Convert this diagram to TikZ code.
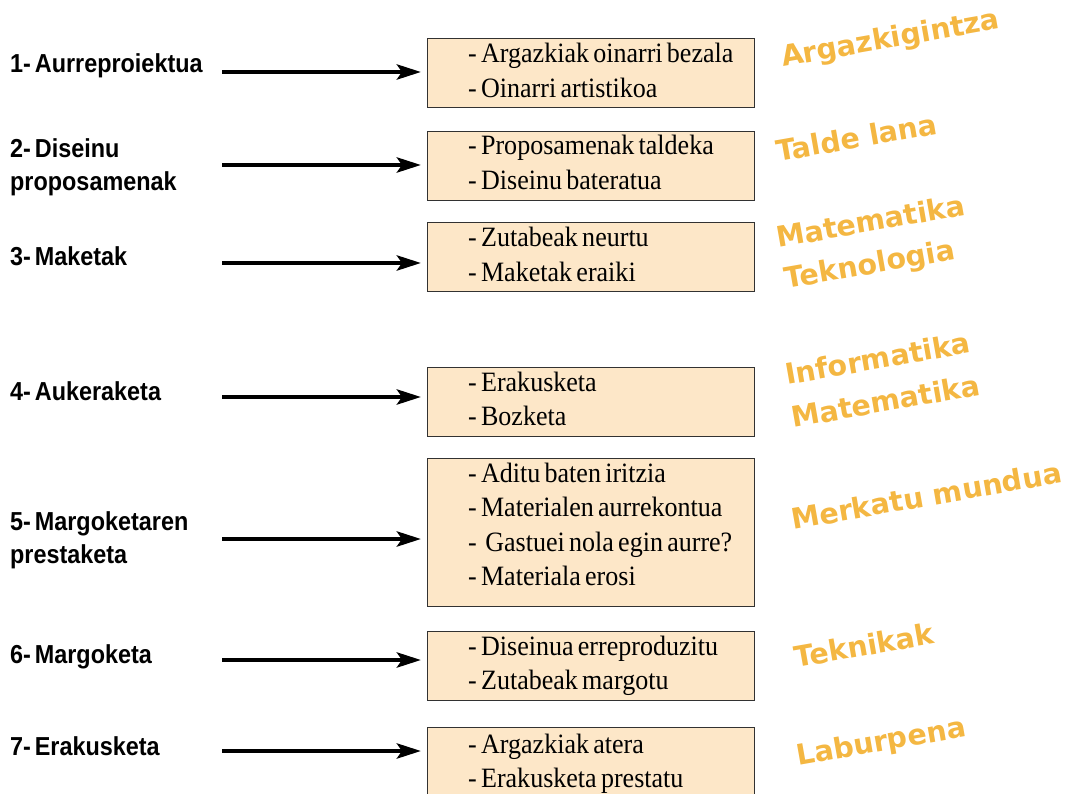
\documentclass[tikz,border=0pt]{standalone}
\usepackage{fontspec}
\usetikzlibrary{arrows.meta}
\newfontfamily\labfont[FakeStretch=0.9,WordSpace=0.6]{Liberation Sans}
\newfontfamily\boxfont[FakeStretch=0.93,WordSpace=0.65]{Liberation Serif}
\newfontfamily\orfont{DejaVu Sans}
\definecolor{boxfill}{RGB}{253,231,200}
\definecolor{boxline}{RGB}{50,50,50}
\definecolor{orng}{RGB}{244,183,66}
\tikzset{
  stepbox/.style={draw=boxline, line width=1.3pt, fill=boxfill, minimum width=327pt, anchor=north west, inner sep=0pt},
  boxtext/.style={anchor=base west, align=left, inner sep=0pt, font=\boxfont\fontsize{28}{34.5}\selectfont},
  lab/.style={anchor=base west, align=left, inner sep=0pt, font=\labfont\bfseries\fontsize{26}{33}\selectfont},
  subj/.style={anchor=base west, align=left, inner sep=0pt, rotate=10, text=orng, font=\orfont\bfseries\fontsize{28.5}{42}\selectfont},
  arr/.style={line width=4.5pt, -{Stealth[length=24pt,width=15pt,inset=5pt]}, shorten >=6pt}
}
\begin{document}
\begin{tikzpicture}[x=1pt,y=-1pt]
\useasboundingbox (0,0) rectangle (1077,794);
\begin{scope}
\clip (0,0) rectangle (1077,794);
% boxes
\node[stepbox, minimum height=69pt] (b1) at (427,38) {};
\node[stepbox, minimum height=69pt] (b2) at (427,131) {};
\node[stepbox, minimum height=69pt] (b3) at (427,222) {};
\node[stepbox, minimum height=69pt] (b4) at (427,367) {};
\node[stepbox, minimum height=148pt] (b5) at (427,458) {};
\node[stepbox, minimum height=69pt] (b6) at (427,631) {};
\node[stepbox, minimum height=72pt] (b7) at (427,727) {};
\end{scope}
% box texts (anchor = baseline of last line)
\node[boxtext] (t1) at (468,97.5) {- Argazkiak oinarri bezala\\- Oinarri artistikoa};
\node[boxtext] (t2) at (468,189.5) {- Proposamenak taldeka\\- Diseinu bateratua};
\node[boxtext] (t3) at (468,281.5) {- Zutabeak neurtu\\- Maketak eraiki};
\node[boxtext] (t4) at (468,425.5) {- Erakusketa\\- Bozketa};
\node[boxtext] (t5) at (468,585.5) {- Aditu baten iritzia\\- Materialen aurrekontua\\-\ \ Gastuei nola egin aurre?\\- Materiala erosi};
\node[boxtext] (t6) at (468,689.5) {- Diseinua erreproduzitu\\- Zutabeak margotu};
\node[boxtext] (t7) at (468,787.5) {- Argazkiak atera\\- Erakusketa prestatu};
% labels
\node[lab] (l1) at (10,73) {1- Aurreproiektua};
\node[lab] (l2) at (10,191) {2- Diseinu\\proposamenak};
\node[lab] (l3) at (10,266) {3- Maketak};
\node[lab] (l4) at (10,400) {4- Aukeraketa};
\node[lab] (l5) at (10,563) {5- Margoketaren\\prestaketa};
\node[lab] (l6) at (10,663) {6- Margoketa};
\node[lab] (l7) at (10,755) {7- Erakusketa};
% arrows
\coordinate (s1) at (222,72);
\coordinate (s2) at (222,165);
\coordinate (s3) at (222,263);
\coordinate (s4) at (222,397);
\coordinate (s5) at (222,539);
\coordinate (s6) at (222,660);
\coordinate (s7) at (222,751);
\foreach \i in {1,...,7} \draw[arr] (s\i) -- (s\i -| b\i.west);
% subjects
\node[subj] (o1) at (783,67) {Argazkigintza};
\node[subj] (o2) at (778,162) {Talde lana};
\node[subj] (o3) at (778,248) {Matematika};
\node[subj] (o3b) at (786,289) {Teknologia};
\node[subj] (o4) at (787,385) {Informatika};
\node[subj] (o4b) at (793,428) {Matematika};
\node[subj] (o5) at (793,530) {Merkatu mundua};
\node[subj] (o6) at (796,668) {Teknikak};
\node[subj] (o7) at (798,766) {Laburpena};
\end{tikzpicture}
\end{document}
